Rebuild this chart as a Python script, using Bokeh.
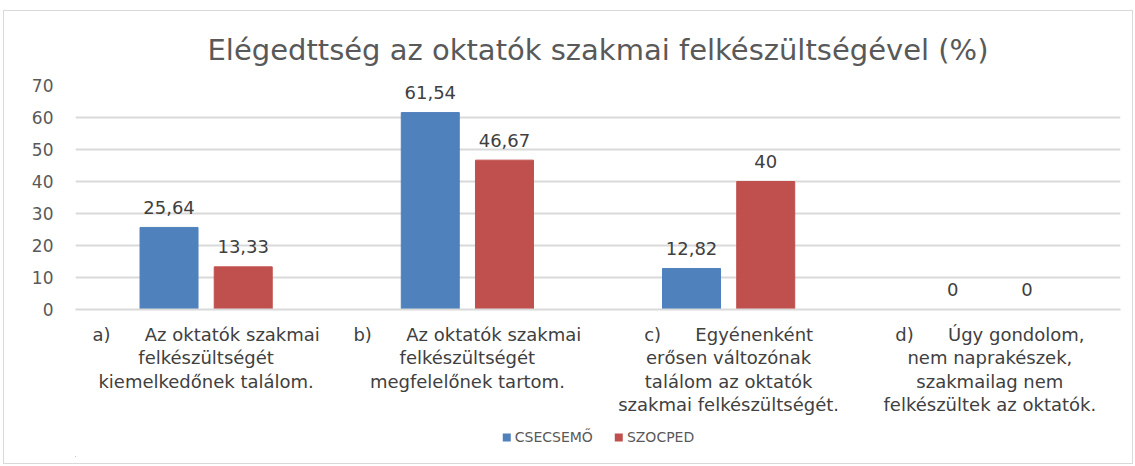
from bokeh.plotting import figure
from bokeh.layouts import column
from bokeh.models import ColumnDataSource, FixedTicker, Legend, LegendItem
from bokeh.transform import dodge
from bokeh.core.properties import value
from bokeh.embed import file_html
from bokeh.resources import INLINE

NB = "\u00a0" * 6
categories = [
    "a)" + NB + "Az oktatók szakmai\nfelkészültségét\nkiemelkedőnek találom.",
    "b)" + NB + "Az oktatók szakmai\nfelkészültségét\nmegfelelőnek tartom.",
    "c)" + NB + "Egyénenként\nerősen változónak\ntalálom az oktatók\nszakmai felkészültségét.",
    "d)" + NB + "Úgy gondolom,\nnem naprakészek,\nszakmailag nem\nfelkészültek az oktatók.",
]
series_names = ["CSECSEMŐ", "SZOCPED"]
csecsemo = [25.64, 61.54, 12.82, 0]
szocped = [13.33, 46.67, 40, 0]
colors = ["#4F81BD", "#C0504D"]
y_ticks = [0, 10, 20, 30, 40, 50, 60, 70]

def fmt(v):
    s = ("%.2f" % v).rstrip("0").rstrip(".")
    return s.replace(".", ",")

xs = [i + 0.5 for i in range(len(categories))]
src = ColumnDataSource(dict(
    x=xs, a=csecsemo, b=szocped,
    la=[fmt(v) for v in csecsemo], lb=[fmt(v) for v in szocped],
))

FONT = "DejaVu Sans"
W = 1128
p = figure(width=W, height=407, output_backend="svg", toolbar_location=None,
           x_range=(0, 4), y_range=(0, 70),
           min_border_left=71, min_border_right=12, min_border_top=74, min_border_bottom=100)
p.outline_line_color = None
p.background_fill_color = "white"

p.title.text = "Elégedttség az oktatók szakmai felkészültségével (%)"
p.title.align = "center"
p.title.text_font = FONT
p.title.text_font_size = "29px"
p.title.text_font_style = "normal"
p.title.text_color = "#595959"
p.title.standoff = 37

off = 0.142
w = 0.222
r1 = p.vbar(x=dodge("x", -off, range=p.x_range), top="a", width=w, source=src, color=colors[0])
r2 = p.vbar(x=dodge("x", off, range=p.x_range), top="b", width=w, source=src, color=colors[1])

for col, lab, o in (("a", "la", -off), ("b", "lb", off)):
    p.text(x=dodge("x", o, range=p.x_range), y=col, text=lab, source=src,
           text_align="center", text_baseline="alphabetic", y_offset=-20,
           text_font=value(FONT), text_font_size="18px", text_color="#404040")

p.xaxis.ticker = FixedTicker(ticks=xs)
p.xaxis.major_label_overrides = {x: c for x, c in zip(xs, categories)}
p.xaxis.major_tick_line_color = None
p.xaxis.minor_tick_line_color = None
p.xaxis.axis_line_color = "#D9D9D9"
p.xaxis.axis_line_width = 2
p.xaxis.major_label_text_font = FONT
p.xaxis.major_label_text_font_size = "18px"
p.xaxis.major_label_text_color = "#404040"
p.xaxis.major_label_text_line_height = 1.12
p.xaxis.major_label_standoff = 8

p.yaxis.ticker = FixedTicker(ticks=y_ticks)
p.yaxis.axis_line_color = None
p.yaxis.major_tick_line_color = None
p.yaxis.minor_tick_line_color = None
p.yaxis.major_label_text_font = FONT
p.yaxis.major_label_text_font_size = "17px"
p.yaxis.major_label_text_color = "#595959"
p.yaxis.major_label_standoff = 16

p.xgrid.grid_line_color = None
p.ygrid.ticker = FixedTicker(ticks=y_ticks)
p.ygrid.grid_line_color = "#D9D9D9"
p.ygrid.grid_line_width = 2

# legend strip below the chart (its bars lie outside its visible ranges)
lp = figure(width=W, height=45, output_backend="svg", toolbar_location=None,
            x_range=(100, 101), y_range=(100, 101),
            x_axis_location=None, y_axis_location=None,
            min_border_left=0, min_border_right=0, min_border_top=0, min_border_bottom=7)
lp.grid.visible = False
lp.outline_line_color = None
g1 = lp.vbar(x="x", top="a", width=w, source=src, fill_color=colors[0], line_color=None)
g2 = lp.vbar(x="x", top="b", width=w, source=src, fill_color=colors[1], line_color=None)
legend = Legend(items=[LegendItem(label=series_names[0], renderers=[g1]),
                       LegendItem(label=series_names[1], renderers=[g2])],
                orientation="horizontal", location="center",
                label_text_font=FONT, label_text_font_size="14px",
                label_text_color="#595959", glyph_width=10, glyph_height=10,
                label_standoff=4, spacing=20, border_line_color=None,
                background_fill_alpha=0, margin=0, padding=2)
lp.add_layout(legend)

layout = column(p, lp, spacing=0)
layout.styles = {"border": "1px solid #D9D9D9", "margin-left": "3px", "margin-top": "10px"}

open("out.html", "w").write(file_html(layout, INLINE))
